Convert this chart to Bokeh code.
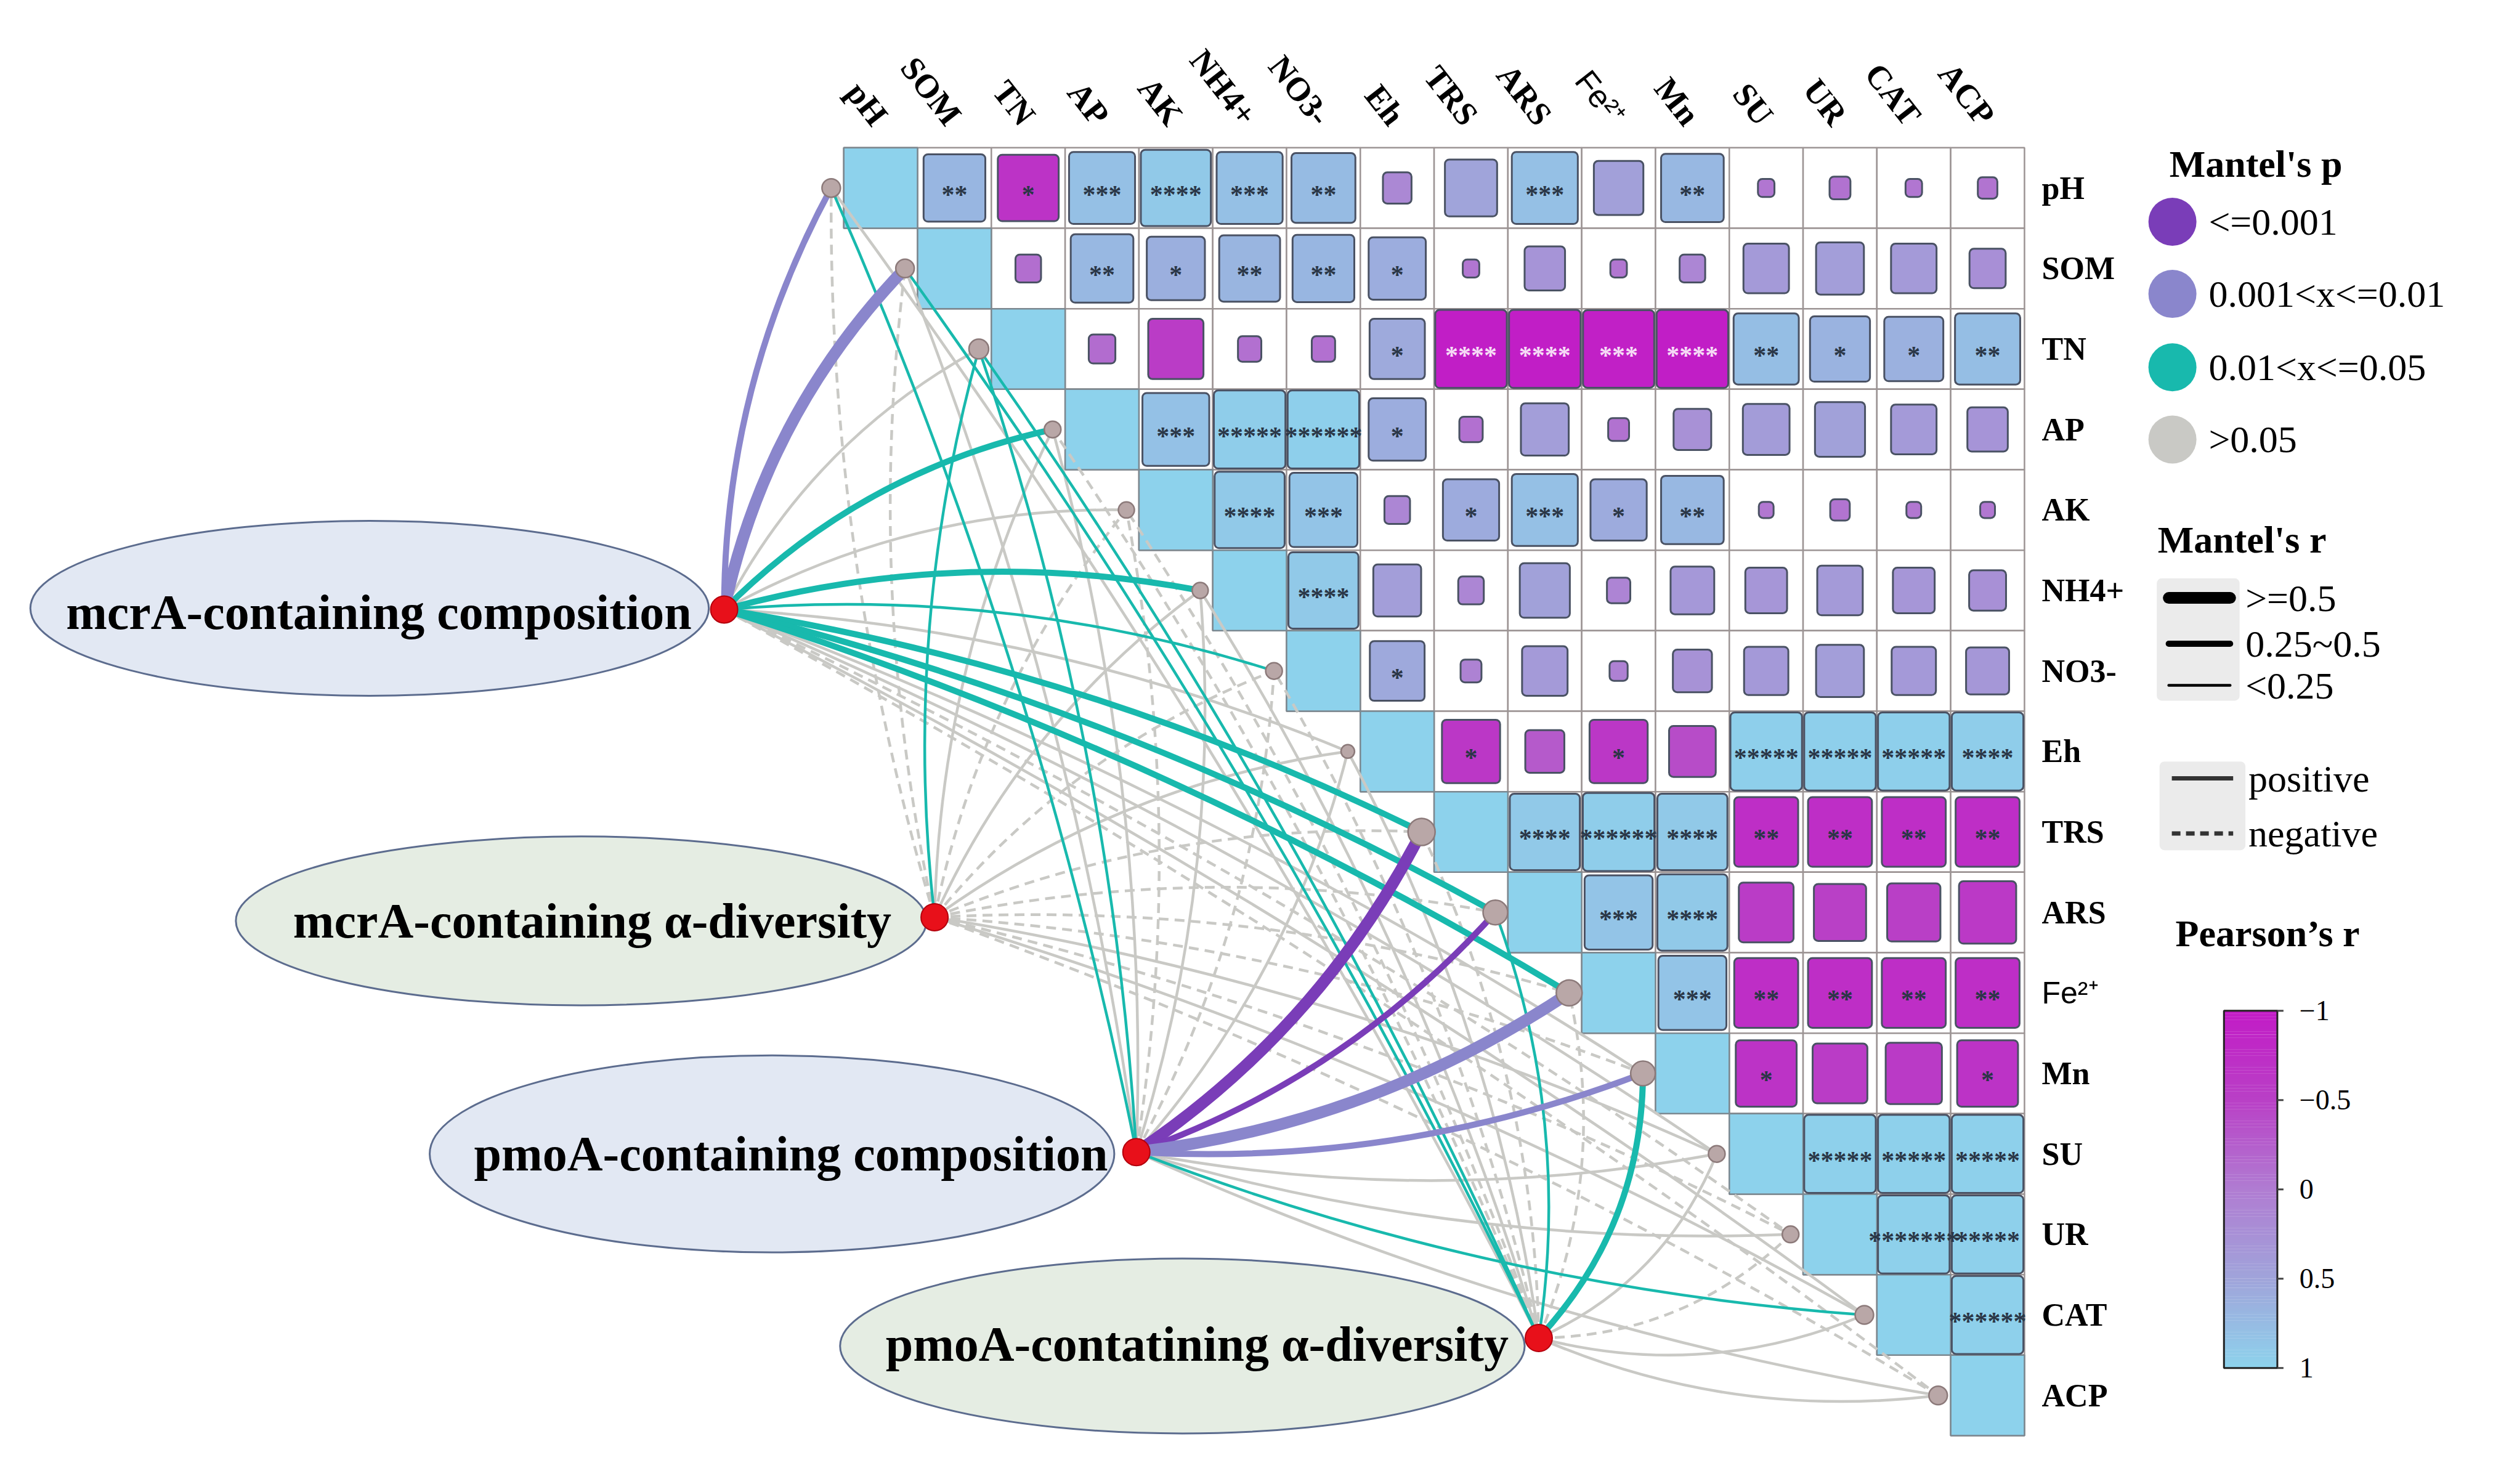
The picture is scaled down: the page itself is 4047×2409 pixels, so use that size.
import math
from bokeh.plotting import figure
from bokeh.models import Range1d
from bokeh.core.properties import value
from bokeh.embed import file_html
from bokeh.resources import INLINE

# ---------------- data ----------------
variables = ["pH", "SOM", "TN", "AP", "AK", "NH4+", "NO3-", "Eh", "TRS", "ARS",
             "Fe²⁺", "Mn", "SU", "UR", "CAT", "ACP"]

# Pearson's r, upper triangle (row i, columns i+1 .. 15)
pearson_r = [
    [0.70, -0.68, 0.80, 0.90, 0.80, 0.75, 0.15, 0.50, 0.80, 0.45, 0.72, -0.05, -0.08, -0.05, -0.07],
    [-0.12, 0.72, 0.62, 0.68, 0.70, 0.60, -0.05, 0.30, -0.05, 0.12, 0.38, 0.42, 0.38, 0.24],
    [-0.13, -0.56, -0.10, -0.10, 0.56, -0.96, -0.96, -0.93, -0.96, 0.78, 0.66, 0.64, 0.78],
    [0.82, 0.95, 0.97, 0.60, -0.10, 0.42, -0.08, 0.26, 0.40, 0.46, 0.38, 0.30],
    [0.90, 0.85, 0.12, 0.58, 0.80, 0.58, 0.72, -0.04, -0.07, -0.04, -0.04],
    [0.90, 0.42, 0.12, 0.46, 0.10, 0.35, 0.32, 0.38, 0.32, 0.25],
    [0.55, 0.08, 0.38, 0.06, 0.28, 0.36, 0.42, 0.36, 0.34],
    [-0.62, -0.28, -0.62, -0.40, 0.97, 0.97, 0.97, 0.95],
    [0.90, 0.95, 0.90, -0.75, -0.75, -0.75, -0.75],
    [0.85, 0.90, -0.55, -0.50, -0.52, -0.60],
    [0.85, -0.75, -0.75, -0.75, -0.75],
    [-0.68, -0.55, -0.58, -0.68],
    [0.98, 0.98, 0.98],
    [0.98, 0.98],
    [0.98],
]
pearson_stars = [
    ["**", "*", "***", "****", "***", "**", "", "", "***", "", "**", "", "", "", ""],
    ["", "**", "*", "**", "**", "*", "", "", "", "", "", "", "", ""],
    ["", "", "", "", "*", "****", "****", "***", "****", "**", "*", "*", "**"],
    ["***", "*****", "******", "*", "", "", "", "", "", "", "", ""],
    ["****", "***", "", "*", "***", "*", "**", "", "", "", ""],
    ["****", "", "", "", "", "", "", "", "", ""],
    ["*", "", "", "", "", "", "", "", ""],
    ["*", "", "*", "", "*****", "*****", "*****", "****"],
    ["****", "******", "****", "**", "**", "**", "**"],
    ["***", "****", "", "", "", ""],
    ["***", "**", "**", "**", "**"],
    ["*", "", "", "*"],
    ["*****", "*****", "*****"],
    ["*******", "*****"],
    ["******"],
]

groups = ["mcrA-containing composition", "mcrA-containing α-diversity",
          "pmoA-containing composition", "pmoA-contatining α-diversity"]

# Mantel tests (order of variables above)
mantel_p_mcrA_comp = [0.005, 0.004, 0.21, 0.03, 0.12, 0.02, 0.04, 0.33, 0.02, 0.02, 0.03, 0.18, 0.25, 0.40, 0.30, 0.45]
mantel_r_mcrA_comp = [0.36, 0.58, 0.12, 0.30, 0.10, 0.30, 0.18, 0.08, 0.32, 0.32, 0.30, 0.10, 0.06, -0.05, 0.05, -0.04]
mantel_p_mcrA_div = [0.40, 0.35, 0.03, 0.25, 0.50, 0.30, 0.45, 0.20, 0.50, 0.60, 0.55, 0.40, 0.35, 0.60, 0.45, 0.70]
mantel_r_mcrA_div = [-0.08, -0.10, 0.20, 0.10, -0.05, 0.08, -0.06, 0.12, -0.05, -0.04, -0.05, -0.07, 0.09, -0.05, 0.06, -0.03]
mantel_p_pmoA_comp = [0.03, 0.30, 0.04, 0.25, 0.35, 0.20, 0.40, 0.15, 0.0005, 0.0008, 0.003, 0.006, 0.30, 0.35, 0.04, 0.25]
mantel_r_pmoA_comp = [0.20, 0.10, 0.18, 0.10, -0.08, 0.12, -0.06, 0.14, 0.62, 0.40, 0.56, 0.35, 0.10, 0.09, 0.15, 0.10]
mantel_p_pmoA_div = [0.30, 0.03, 0.04, 0.25, 0.40, 0.30, 0.45, 0.20, 0.30, 0.03, 0.25, 0.02, 0.35, 0.40, 0.30, 0.45]
mantel_r_pmoA_div = [0.10, 0.18, 0.16, -0.08, -0.06, 0.09, -0.05, 0.10, -0.08, 0.15, -0.07, 0.30, 0.08, -0.06, 0.07, 0.09]

p_labels = ["<=0.001", "0.001<x<=0.01", "0.01<x<=0.05", ">0.05"]
p_breaks = [0.001, 0.01, 0.05, 1.0]
r_labels = [">=0.5", "0.25~0.5", "<0.25"]
r_breaks = [0.5, 0.25, 0.0]
sign_labels = ["positive", "negative"]
cbar_ticks = [-1.0, -0.5, 0.0, 0.5, 1.0]
cbar_tick_labels = ["\u22121", "\u22120.5", "0", "0.5", "1"]

# ---------------- style / layout ----------------
P_COLORS = ["#7a3db8", "#8a86cc", "#18b9ad", "#c9c9c5"]
R_WIDTHS = [19, 10, 4.5]
R_ANCHORS = [(-1.0, "#c21bc6"), (-0.5, "#b940c6"), (0.0, "#b07cd2"), (0.5, "#a0a4da"), (1.0, "#8dd2ec")]
SERIF = "Liberation Serif"
SANS = "Liberation Sans"

W, H = 4030, 2392          # figure size (px)
RW, RH = 4047, 2409        # reference frame
X0, Y0 = 1375, 241         # matrix top-left in reference frame
CW, CH = 120.3, 131.6      # cell size in reference frame
NODE_DX = -0.17
BEND = 90.0                # control-point offset of link curves (reference px)


def dx(px):
    return (px - X0) / CW


def dy(py):
    return (py - Y0) / CH


def hex2rgb(h):
    return tuple(int(h[i:i + 2], 16) for i in (1, 3, 5))


def r_color(r):
    r = max(-1.0, min(1.0, r))
    for (a, ca), (b, cb) in zip(R_ANCHORS[:-1], R_ANCHORS[1:]):
        if a <= r <= b:
            t = (r - a) / (b - a)
            c1, c2 = hex2rgb(ca), hex2rgb(cb)
            return "#%02x%02x%02x" % tuple(int(round(c1[k] + t * (c2[k] - c1[k]))) for k in range(3))
    return R_ANCHORS[-1][1]


p = figure(width=W, height=H, output_backend="svg", toolbar_location=None,
           x_range=Range1d(dx(0), dx(RW)), y_range=Range1d(dy(RH), dy(0)),
           x_axis_type=None, y_axis_type=None, min_border=0)
p.grid.visible = False
p.outline_line_color = None
p.background_fill_color = "white"
p.border_fill_color = "white"


def txt(x, y, texts, size, font=SERIF, style="normal", align="left", baseline="middle",
        color="black", angle=0.0):
    p.text(x=x, y=y, text=texts, text_font=value(font), text_font_size=value(f"{size}px"),
           text_font_style=value(style), text_align=value(align), text_baseline=value(baseline),
           text_color=color, angle=angle, angle_units="deg")


n = len(variables)

# ---------------- ellipses (group labels) ----------------
ell_xy = [(602, 994), (947, 1505), (1258, 1886), (1927, 2200)]
ell_rr = [(553, 143), (563, 138), (558, 161), (558, 143)]
ell_fill = ["#e2e8f3", "#e5ede3", "#e2e8f3", "#e5ede3"]
p.ellipse(x=[dx(a) for a, b in ell_xy], y=[dy(b) for a, b in ell_xy],
          width=[2 * rx / CW for rx, ry in ell_rr], height=[2 * ry / CH for rx, ry in ell_rr],
          fill_color=ell_fill, line_color="#5c6c8e", line_width=3)
lab_xy = [(617, 1001), (965, 1505), (1289, 1886), (1951, 2197)]
txt([dx(a) for a, b in lab_xy], [dy(b) for a, b in lab_xy], groups, 80, style="bold", align="center")

# ---------------- matrix grid ----------------
gx_, gy_ = [], []
for i in range(n):
    for j in range(i, n):
        gx_.append(j + 0.5)
        gy_.append(i + 0.5)
p.rect(x=gx_, y=gy_, width=1, height=1, fill_color="white", line_color="#9c9494", line_width=2.5)
p.rect(x=[i + 0.5 for i in range(n)], y=[i + 0.5 for i in range(n)], width=1, height=1,
       fill_color=r_color(1.0), line_color="#7c8890", line_width=2.5)

sq_x, sq_y, sq_s, sq_c = [], [], [], []
st_x, st_y, st_t, st_c = [], [], [], []
for i, row in enumerate(pearson_r):
    for k, r in enumerate(row):
        j = i + 1 + k
        s = min(0.97, math.sqrt(abs(r)))
        sq_x.append(j + 0.5)
        sq_y.append(i + 0.5)
        sq_s.append(s)
        sq_c.append(r_color(r))
        stars = pearson_stars[i][k]
        if stars:
            st_x.append(j + 0.5)
            st_y.append(i + 0.58)
            st_t.append(stars)
            st_c.append("#f6dcf6" if r < -0.85 else "#2a3646")
p.rect(x=sq_x, y=sq_y, width=sq_s, height=sq_s, fill_color=sq_c, line_color="#4a5264", line_width=3,
       border_radius=7)
txt(st_x, st_y, st_t, 42, style="bold", align="center", color=st_c)

# row labels
rl_idx = [i for i in range(n) if variables[i] != "Fe²⁺"]
txt([dx(3328)] * len(rl_idx), [i + 0.5 for i in rl_idx], [variables[i] for i in rl_idx], 52, style="bold")
fe = variables.index("Fe²⁺")
txt([dx(3328)], [fe + 0.5], [variables[fe]], 50, font=SANS)
# column labels
txt([j + 0.5 for j in rl_idx], [-0.33] * len(rl_idx), [variables[j] for j in rl_idx], 54,
    style="bold", align="right", angle=-52)
txt([fe + 0.5], [-0.33], [variables[fe]], 52, font=SANS, align="right", angle=-52)

# ---------------- Mantel links ----------------
group_xy = [(1180, 996), (1523, 1499), (1852, 1883), (2508, 2187)]
group_side = [1, 1, -1, -1]      # +1 bends to the left of travel, -1 to the right
mantel_p_all = [mantel_p_mcrA_comp, mantel_p_mcrA_div, mantel_p_pmoA_comp, mantel_p_pmoA_div]
mantel_r_all = [mantel_r_mcrA_comp, mantel_r_mcrA_div, mantel_r_pmoA_comp, mantel_r_pmoA_div]


def p_class(pv):
    for c, b in enumerate(p_breaks):
        if pv <= b:
            return c
    return len(p_breaks) - 1


def r_class(rv):
    for c, b in enumerate(r_breaks):
        if abs(rv) >= b:
            return c
    return len(r_breaks) - 1


links = []
for g in range(len(groups)):
    gx, gy = group_xy[g]
    for j in range(n):
        nx = X0 + (j + NODE_DX) * CW
        ny = Y0 + (j + 0.5) * CH
        L = math.hypot(nx - gx, ny - gy)
        kb = group_side[g] * min(0.2, BEND / L)
        cxp = (gx + nx) / 2 + kb * (ny - gy)
        cyp = (gy + ny) / 2 - kb * (nx - gx)
        pc = p_class(mantel_p_all[g][j])
        rc = r_class(mantel_r_all[g][j])
        links.append(dict(x0=dx(gx), y0=dy(gy), x1=dx(nx), y1=dy(ny), cx=dx(cxp), cy=dy(cyp),
                          pc=pc, color=P_COLORS[pc], width=R_WIDTHS[rc],
                          neg=mantel_r_all[g][j] < 0))

for layer in (lambda d: d["pc"] == 3, lambda d: d["pc"] == 2, lambda d: d["pc"] < 2):
    for neg in (False, True):
        sel = [d for d in links if layer(d) and d["neg"] == neg]
        if not sel:
            continue
        p.quadratic(x0=[d["x0"] for d in sel], y0=[d["y0"] for d in sel],
                    x1=[d["x1"] for d in sel], y1=[d["y1"] for d in sel],
                    cx=[d["cx"] for d in sel], cy=[d["cy"] for d in sel],
                    line_color=[d["color"] for d in sel], line_width=[d["width"] for d in sel],
                    line_dash="16 10" if neg else "solid", line_cap="butt")

# env nodes
node_size = [30, 30, 32, 27, 26, 26, 27, 22, 44, 40, 42, 40, 27, 27, 30, 30]
p.scatter(x=[j + NODE_DX for j in range(n)], y=[j + 0.5 for j in range(n)], size=node_size,
          fill_color="#b9a7a7", line_color="#8c7a7a", line_width=2.5)
# group nodes
p.scatter(x=[dx(a) for a, b in group_xy], y=[dy(b) for a, b in group_xy], size=44,
          fill_color="#e8101a", line_color="#b3000c", line_width=2)

# ---------------- legends ----------------
txt([dx(3536)], [dy(267)], ["Mantel's p"], 62, style="bold")
leg_y = [362, 480, 600, 718]
p.scatter(x=[dx(3541)] * 4, y=[dy(v) for v in leg_y], size=78, fill_color=P_COLORS, line_color=None)
txt([dx(3600)] * 4, [dy(v) for v in leg_y], p_labels, 62)

txt([dx(3517)], [dy(882)], ["Mantel's r"], 62, style="bold")
p.rect(x=[dx(3583)], y=[dy(1045)], width=[135 / CW], height=[200 / CH], fill_color="#ebebeb", line_color=None,
       border_radius=8)
ry_ = [977, 1052, 1120]
p.segment(x0=[dx(3535)] * 3, y0=[dy(v) for v in ry_], x1=[dx(3635)] * 3, y1=[dy(v) for v in ry_],
          line_color="black", line_width=R_WIDTHS, line_cap="round")
txt([dx(3660)] * 3, [dy(v) for v in ry_], r_labels, 62)

p.rect(x=[dx(3590)], y=[dy(1317)], width=[140 / CW], height=[145 / CH], fill_color="#ebebeb", line_color=None,
       border_radius=8)
p.segment(x0=[dx(3540)], y0=[dy(1272)], x1=[dx(3640)], y1=[dy(1272)], line_color="#333333", line_width=7)
p.segment(x0=[dx(3540)], y0=[dy(1362)], x1=[dx(3640)], y1=[dy(1362)], line_color="#333333", line_width=7,
          line_dash="14 9")
txt([dx(3665)] * 2, [dy(1272), dy(1362)], sign_labels, 62)

txt([dx(3546)], [dy(1525)], ["Pearson\u2019s r"], 62, style="bold")

# colorbar
CB_X0, CB_X1, CB_Y0, CB_Y1 = 3625, 3712, 1652, 2236
nb = 120
cb_y, cb_c = [], []
for t in range(nb):
    v = -1.0 + 2.0 * (t + 0.5) / nb
    cb_y.append(dy(CB_Y0 + (v + 1) / 2 * (CB_Y1 - CB_Y0)))
    cb_c.append(r_color(v))
p.rect(x=[dx((CB_X0 + CB_X1) / 2)] * nb, y=cb_y, width=(CB_X1 - CB_X0) / CW,
       height=(CB_Y1 - CB_Y0) / CH / nb * 1.05, fill_color=cb_c, line_color=None)
p.rect(x=[dx((CB_X0 + CB_X1) / 2)], y=[dy((CB_Y0 + CB_Y1) / 2)], width=(CB_X1 - CB_X0) / CW,
       height=(CB_Y1 - CB_Y0) / CH, fill_color=None, line_color="#222222", line_width=3)
tick_y = [dy(CB_Y0 + (v + 1) / 2 * (CB_Y1 - CB_Y0)) for v in cbar_ticks]
p.segment(x0=[dx(CB_X1)] * 5, y0=tick_y, x1=[dx(CB_X1 + 10)] * 5, y1=tick_y, line_color="#444444", line_width=3)
txt([dx(3748)] * 5, tick_y, cbar_tick_labels, 46)

open("out.html", "w").write(file_html(p, INLINE))
